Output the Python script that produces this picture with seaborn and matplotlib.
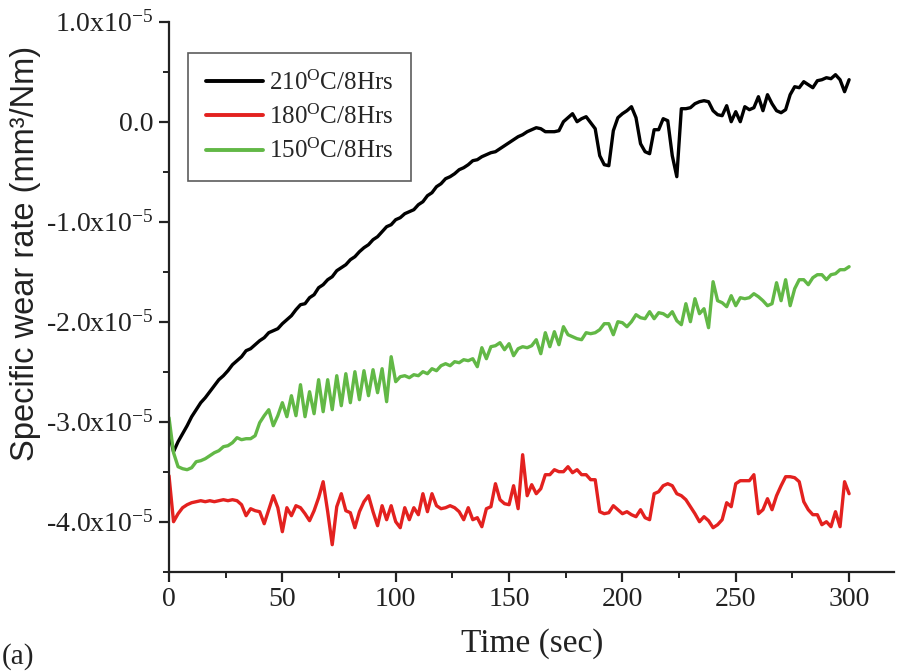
import numpy as np
import pandas as pd
import matplotlib
matplotlib.use("Agg")
import matplotlib.pyplot as plt
from matplotlib.ticker import MultipleLocator, FuncFormatter
import seaborn as sns

# ---------------- data (values in units of 1e-5 mm^3/Nm) ----------------
time_s = list(range(0, 301, 2))

black_210 = [
    -3.10, -3.30, -3.20, -3.12, -3.04, -2.95, -2.88, -2.81, -2.76, -2.70,
    -2.64, -2.58, -2.54, -2.49, -2.43, -2.39, -2.35, -2.29, -2.27, -2.23,
    -2.19, -2.16, -2.11, -2.09, -2.07, -2.02, -1.98, -1.94, -1.88, -1.83,
    -1.82, -1.76, -1.73, -1.66, -1.63, -1.58, -1.55, -1.49, -1.46, -1.43,
    -1.38, -1.35, -1.30, -1.26, -1.23, -1.18, -1.15, -1.10, -1.05, -1.03,
    -0.98, -0.96, -0.92, -0.90, -0.88, -0.83, -0.80, -0.74, -0.71, -0.65,
    -0.62, -0.57, -0.55, -0.52, -0.48, -0.46, -0.43, -0.39, -0.38, -0.35,
    -0.33, -0.31, -0.30, -0.27, -0.24, -0.21, -0.18, -0.15, -0.13, -0.10,
    -0.08, -0.06, -0.07, -0.10, -0.10, -0.10, -0.09, 0.00, 0.04, 0.08,
    0.00, 0.03, 0.05, -0.01, -0.07, -0.34, -0.43, -0.44, -0.09, 0.04,
    0.08, 0.11, 0.15, 0.04, -0.22, -0.30, -0.32, -0.08, -0.08, 0.03,
    0.01, -0.34, -0.55, 0.13, 0.13, 0.14, 0.18, 0.20, 0.21, 0.20,
    0.11, 0.07, 0.06, 0.16, 0.00, 0.10, 0.00, 0.15, 0.12, 0.14,
    0.25, 0.11, 0.27, 0.18, 0.11, 0.09, 0.12, 0.27, 0.35, 0.34,
    0.40, 0.37, 0.34, 0.41, 0.42, 0.44, 0.43, 0.47, 0.42, 0.30,
    0.42,
]

red_180 = [
    -3.54, -4.00, -3.92, -3.86, -3.83, -3.81, -3.80, -3.79, -3.80, -3.79,
    -3.80, -3.79, -3.78, -3.79, -3.78, -3.79, -3.83, -3.94, -3.87, -3.89,
    -3.90, -4.02, -3.88, -3.74, -3.86, -4.10, -3.86, -3.94, -3.84, -3.86,
    -3.92, -3.99, -3.89, -3.76, -3.60, -3.90, -4.23, -3.85, -3.72, -3.89,
    -3.91, -4.06, -3.90, -3.80, -3.74, -3.90, -4.04, -3.84, -3.98, -3.84,
    -4.00, -4.06, -3.86, -3.98, -3.86, -3.93, -3.72, -3.90, -3.72, -3.84,
    -3.87, -3.86, -3.84, -3.86, -3.90, -3.98, -3.86, -3.98, -3.96, -4.05,
    -3.87, -3.85, -3.62, -3.78, -3.82, -3.83, -3.64, -3.87, -3.33, -3.74,
    -3.63, -3.72, -3.67, -3.53, -3.53, -3.48, -3.50, -3.50, -3.45, -3.51,
    -3.48, -3.53, -3.53, -3.58, -3.58, -3.90, -3.92, -3.91, -3.84, -3.88,
    -3.92, -3.90, -3.93, -3.95, -3.88, -3.96, -3.98, -3.72, -3.70, -3.64,
    -3.62, -3.64, -3.72, -3.74, -3.78, -3.85, -3.92, -4.00, -3.95, -3.99,
    -4.06, -4.03, -3.98, -3.81, -3.85, -3.62, -3.59, -3.59, -3.59, -3.53,
    -3.92, -3.88, -3.77, -3.88, -3.74, -3.64, -3.55, -3.55, -3.56, -3.60,
    -3.80, -3.88, -3.93, -3.93, -4.03, -4.00, -4.05, -3.90, -4.05, -3.60,
    -3.72,
]

green_150 = [
    -2.96, -3.31, -3.45, -3.47, -3.48, -3.46, -3.40, -3.39, -3.37, -3.34,
    -3.31, -3.29, -3.25, -3.24, -3.21, -3.16, -3.18, -3.17, -3.17, -3.14,
    -3.01, -2.94, -2.88, -3.04, -2.94, -2.81, -2.95, -2.74, -2.94, -2.63,
    -2.95, -2.70, -2.92, -2.58, -2.90, -2.58, -2.88, -2.54, -2.84, -2.52,
    -2.81, -2.50, -2.78, -2.49, -2.74, -2.48, -2.71, -2.47, -2.80, -2.35,
    -2.60, -2.55, -2.54, -2.56, -2.53, -2.54, -2.50, -2.52, -2.47, -2.49,
    -2.44, -2.42, -2.44, -2.40, -2.41, -2.38, -2.39, -2.37, -2.45, -2.26,
    -2.37, -2.25, -2.24, -2.21, -2.28, -2.22, -2.34, -2.27, -2.25, -2.26,
    -2.24, -2.18, -2.32, -2.11, -2.25, -2.10, -2.23, -2.05, -2.13, -2.15,
    -2.17, -2.18, -2.11, -2.12, -2.11, -2.08, -2.02, -2.02, -2.13, -2.00,
    -2.01, -2.05, -2.00, -1.93, -1.96, -1.97, -1.90, -1.97, -1.91, -1.92,
    -1.95, -1.90, -1.99, -2.03, -1.82, -2.00, -1.77, -1.92, -1.87, -2.06,
    -1.60, -1.79, -1.81, -1.85, -1.74, -1.84, -1.76, -1.77, -1.76, -1.72,
    -1.75, -1.79, -1.84, -1.82, -1.61, -1.79, -1.58, -1.84, -1.67, -1.58,
    -1.58, -1.63, -1.56, -1.53, -1.53, -1.58, -1.53, -1.52, -1.48, -1.48,
    -1.45,
]

series_names = ["210", "180", "150"]
series_labels = [r"210$^{\mathrm{O}}$C/8Hrs", r"180$^{\mathrm{O}}$C/8Hrs",
                 r"150$^{\mathrm{O}}$C/8Hrs"]
series_colors = ["#000000", "#e3211f", "#62b846"]

x_ticks = [0, 50, 100, 150, 200, 250, 300]
y_ticks = [1.0, 0.0, -1.0, -2.0, -3.0, -4.0]

# ---------------- build long-form table ----------------
frames = []
for name, vals in zip(series_names, [black_210, red_180, green_150]):
    frames.append(pd.DataFrame({"Time": time_s,
                                "Rate": np.array(vals) * 1e-5,
                                "Series": name}))
df = pd.concat(frames, ignore_index=True)

# ---------------- style ----------------
sns.set_style("ticks")
plt.rcParams["font.family"] = ["Liberation Serif", "DejaVu Serif"]
plt.rcParams["mathtext.fontset"] = "custom"
plt.rcParams["mathtext.rm"] = "Liberation Serif"
plt.rcParams["mathtext.it"] = "Liberation Serif:italic"
plt.rcParams["mathtext.bf"] = "Liberation Serif:bold"

fig = plt.figure(figsize=(8.99, 6.71), dpi=100)
ax = fig.add_axes([169 / 899, 1 - 571.7 / 671, (320 * 2.267) / 899, 550 / 671])

sns.lineplot(data=df, x="Time", y="Rate", hue="Series",
             hue_order=series_names, palette=series_colors,
             estimator=None, sort=False, linewidth=2.4, ax=ax, legend=False)

ax.set_xlim(0, 320)
ax.set_ylim(-4.5e-5, 1.0e-5)
ax.set_xticks(x_ticks)
ax.xaxis.set_minor_locator(MultipleLocator(25))
ax.set_yticks([v * 1e-5 for v in y_ticks])
ax.yaxis.set_minor_locator(MultipleLocator(0.5e-5))


def yfmt(v, pos):
    if abs(v) < 1e-12:
        return "0.0"
    return "%.1fx10$^{-5}$" % (v / 1e-5)


ax.yaxis.set_major_formatter(FuncFormatter(yfmt))

for side in ["top", "right"]:
    ax.spines[side].set_visible(False)
for side in ["left", "bottom"]:
    ax.spines[side].set_linewidth(1.6)
    ax.spines[side].set_color("#222222")

ax.tick_params(which="major", direction="out", length=7, width=1.6,
               labelsize=20, colors="#222222", pad=4)
ax.tick_params(which="minor", direction="out", length=4, width=1.4,
               colors="#222222")

ax.set_xlabel("Time (sec)", fontsize=24, labelpad=12, color="#222222")
ax.set_ylabel("")
fig.text(26 / 899, 1 - 253 / 671, "Specific wear rate (mm³/Nm)",
         family=["Liberation Sans", "DejaVu Sans"], fontsize=23.5,
         rotation=90, ha="center", va="center", color="#222222")
fig.text(2 / 899, 1 - 657 / 671, "(a)", fontsize=21, ha="left", va="center",
         color="#222222")

handles = [plt.Line2D([], [], color=c, linewidth=2.8) for c in series_colors]
leg = ax.legend(handles, series_labels, loc="upper left",
                bbox_to_anchor=(188 / 899, 1 - 53 / 671),
                bbox_transform=fig.transFigure, borderaxespad=0,
                fontsize=18, frameon=True, fancybox=False,
                handlelength=2.3, handletextpad=0.25, labelspacing=0.4,
                borderpad=0.7)
leg.get_frame().set_edgecolor("#333333")
leg.get_frame().set_linewidth(1.2)

fig.savefig("out.png", dpi=100, facecolor="white")
